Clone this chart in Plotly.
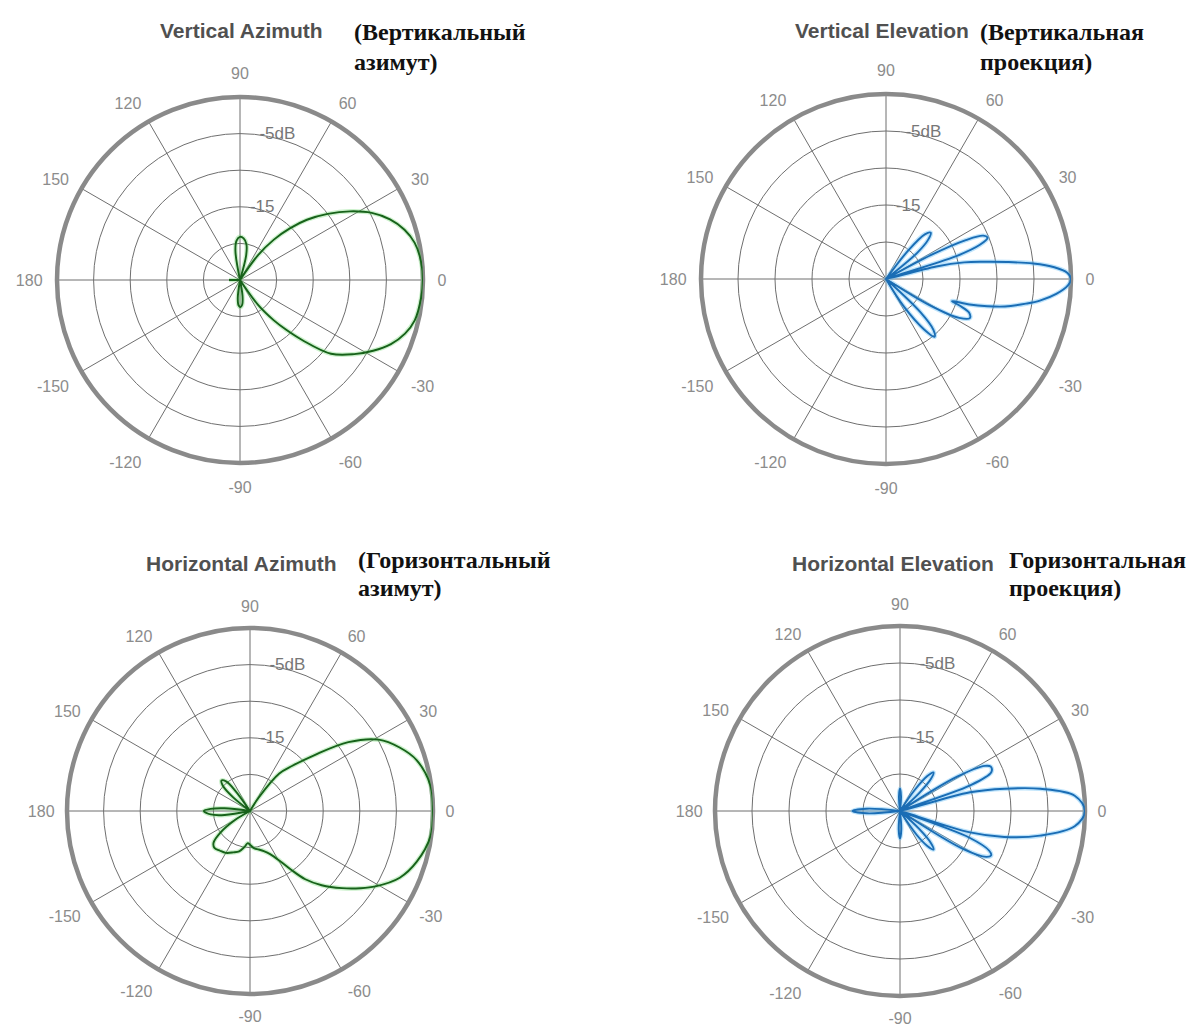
import plotly.graph_objects as go

W, H = 1204, 1027

# Angular ticks (degrees, counter-clockwise from the right) and their labels
ANG_TICKS = [0, 30, 60, 90, 120, 150, 180, 210, 240, 270, 300, 330]
ANG_LABELS = ["0", "30", "60", "90", "120", "150", "180",
              "-150", "-120", "-90", "-60", "-30"]

# Radial rings in dB (outer edge is 0 dB, centre is -25 dB)
RING_DB = [-20, -15, -10, -5]
RING_LABELS = ["", "\u00a0\u00a0-15", "", "\u00a0\u00a0\u00a0\u00a0-5dB"]

# Vertical Azimuth pattern
va_theta = [-180, -172, -100, -97, -93, -89, -85, -81, -77, -62, -58, -54, -50,
            -47, -44, -39, -33, -28, -23, -18, -13, -6, 0, 6, 12, 17, 22, 27,
            32, 37, 42, 46, 50, 54, 58, 72, 76, 80, 85, 90, 95, 99, 103, 172, 180]
va_db = [-23.5, -25, -25, -22.5, -21.5, -21.3, -21.6, -22.8, -25, -25, -25,
         -20.8, -17.8, -15.6, -13.2, -9.0, -6.4, -4.4, -2.6, -1.3, -0.5, -0.15,
         0, -0.15, -0.6, -1.5, -2.9, -4.8, -7.3, -10.0, -12.7, -15.2, -17.8,
         -20.8, -25, -25, -21.5, -20.0, -19.3, -19.1, -19.6, -21.0, -25, -25,
         -23.5]

# Vertical Elevation pattern
ve_theta = [-180, -62, -57, -53, -50, -47, -44, -40, -34, -31, -28, -25, -22,
            -20, -18.5, -17, -15, -13, -10, -8, -5, -2, 0, 2, 4, 6, 8, 10, 12,
            14, 16, 18, 20, 22, 24, 26, 28, 31, 36, 40, 43, 46, 49, 52, 55, 180]
ve_db = [-25, -25, -20.5, -16.5, -14.8, -15.6, -18.5, -25, -25, -18.0, -13.8,
         -12.5, -12.9, -14.3, -15.6, -13.2, -10.8, -8.5, -5.8, -4.0, -1.9,
         -0.4, 0, -0.5, -2.2, -5.0, -8.5, -11.6, -14.2, -18.0, -25, -15.0,
         -11.5, -10.2, -10.6, -13.0, -18.0, -25, -25, -19.5, -17.2, -16.3,
         -17.0, -20.0, -25, -25]

# Horizontal Azimuth pattern
ha_theta = [-180, -175, -171, -167, -153, -149, -144, -139, -134, -127, -120,
            -112, -105, -99, -94, -90, -84, -77, -71, -65, -59, -55, -51, -46,
            -40, -35, -31, -24, -17, -8, 0, 8, 17, 23, 29, 35, 41, 47, 52, 57,
            61, 122, 126, 129, 133, 137, 141, 145, 170, 174, 177, 180]
ha_db = [-18.7, -19.6, -21.5, -25, -25, -22.5, -20.0, -18.4, -18.0, -18.2,
         -18.4, -18.9, -19.3, -20.0, -20.6, -20.4, -19.9, -19.6, -19.2, -18.5,
         -17.0, -15.2, -13.0, -10.9, -8.6, -6.6, -5.0, -2.6, -1.2, -0.1, 0,
         -0.1, -1.2, -2.8, -4.9, -8.6, -13.4, -16.6, -18.5, -22.8, -25, -25,
         -21.5, -19.8, -19.3, -19.9, -22.0, -25, -25, -21.5, -19.6, -18.7]

# Horizontal Elevation pattern
he_theta = [-180, -176, -172, -98, -94, -90, -86, -82, -60, -55, -52, -49, -46,
            -43, -39, -34, -31, -28, -26, -24, -21, -19, -17, -14, -10, -5, 0,
            5, 9, 12, 15, 17, 20, 23, 26, 28, 31, 33, 40, 43, 46, 49, 52, 55,
            59, 82, 86, 90, 94, 98, 172, 176, 180]
he_db = [-18.6, -20.5, -25, -25, -22.5, -21.3, -22.5, -25, -25, -21.0, -19.0,
         -18.1, -19.0, -21.5, -25, -25, -15.0, -11.8, -11.3, -11.8, -15.0, -25,
         -15.1, -10.5, -5.8, -1.3, 0, -1.3, -5.8, -10.5, -15.2, -25, -15.0,
         -11.6, -11.35, -12.0, -16.0, -25, -25, -21.5, -19.0, -18.1, -19.0,
         -21.5, -25, -25, -23.0, -22.0, -23.0, -25, -25, -20.5, -18.6]

GREEN = "#17621a"
GREEN_HALO = "rgba(110,215,110,0.35)"
BLUE = "#1a6db5"
BLUE_HALO = "rgba(90,185,245,0.40)"

panels = [
    # theta, r, line colour, halo colour, centre x, centre y, radius (px), label gap
    (va_theta, va_db, GREEN, GREEN_HALO, 240, 280, 183, 9),
    (ve_theta, ve_db, BLUE, BLUE_HALO, 886, 279, 185, 9),
    (ha_theta, ha_db, GREEN, GREEN_HALO, 250, 811, 183, 7),
    (he_theta, he_db, BLUE, BLUE_HALO, 900, 811, 185, 7),
]

TICK_FONT = dict(family="Liberation Sans, Arial", size=16, color="#8c8c8c")
GRID = "#6f6f6f"

fig = go.Figure()
layout_polars = {}
for i, (th, rr, col, halo, cx, cy, rad, gap) in enumerate(panels, start=1):
    key = "polar" if i == 1 else f"polar{i}"
    for width, colour in ((4.5, halo), (1.9, col)):
        fig.add_trace(go.Scatterpolar(
            theta=th, r=rr, mode="lines", subplot=key,
            line=dict(color=colour, width=width, shape="spline", smoothing=1),
            hoverinfo="skip", showlegend=False,
        ))
    layout_polars[key] = dict(
        domain=dict(x=[(cx - rad) / W, (cx + rad) / W],
                    y=[1 - (cy + rad) / H, 1 - (cy - rad) / H]),
        bgcolor="white",
        angularaxis=dict(
            rotation=0, direction="counterclockwise", layer="below traces",
            tickmode="array", tickvals=ANG_TICKS, ticktext=ANG_LABELS,
            showline=True, linecolor="#8a8a8a", linewidth=4.5,
            showgrid=True, gridcolor=GRID, gridwidth=1.3,
            ticks="outside", ticklen=gap, tickcolor="rgba(0,0,0,0)",
            tickfont=TICK_FONT,
        ),
        radialaxis=dict(
            range=[-25, 0], angle=90, tickangle=90, side="clockwise",
            layer="below traces",
            tickmode="array", tickvals=RING_DB, ticktext=RING_LABELS,
            showline=False, showgrid=True, gridcolor=GRID, gridwidth=1.3,
            ticks="",
            tickfont=dict(family="Liberation Sans, Arial", size=17, color="#777777"),
        ),
    )

# Panel titles: English caption plus Russian caption on two lines
titles = [
    ("Vertical Azimuth", 241, 31, "(Вертикальный", "азимут)", 352, 32, 62),
    ("Vertical Elevation", 882, 31, "(Вертикальная", "проекция)", 978, 32, 62),
    ("Horizontal Azimuth", 241, 563, "(Горизонтальный", "азимут)", 356, 560, 588),
    ("Horizontal Elevation", 893, 563, "Горизонтальная", "проекция)", 1007, 560, 588),
]
annotations = []
for en, ex, ey, ru1, ru2, rx, ry1, ry2 in titles:
    annotations.append(dict(
        text=f"<b>{en}</b>", x=ex / W, y=1 - ey / H, xref="paper", yref="paper",
        xanchor="center", yanchor="middle", showarrow=False,
        font=dict(family="Liberation Sans, Arial", size=21, color="#505050"),
    ))
    for txt, yy in ((ru1, ry1), (ru2, ry2)):
        annotations.append(dict(
            text=f"<b>{txt}</b>", x=rx / W, y=1 - yy / H, xref="paper", yref="paper",
            xanchor="left", yanchor="middle", showarrow=False,
            font=dict(family="Liberation Serif, Times New Roman", size=24, color="#111111"),
        ))

fig.update_layout(
    width=W, height=H,
    margin=dict(l=0, r=0, t=0, b=0),
    paper_bgcolor="white", plot_bgcolor="white",
    showlegend=False,
    annotations=annotations,
    **layout_polars,
)

fig.write_html("out.html")
